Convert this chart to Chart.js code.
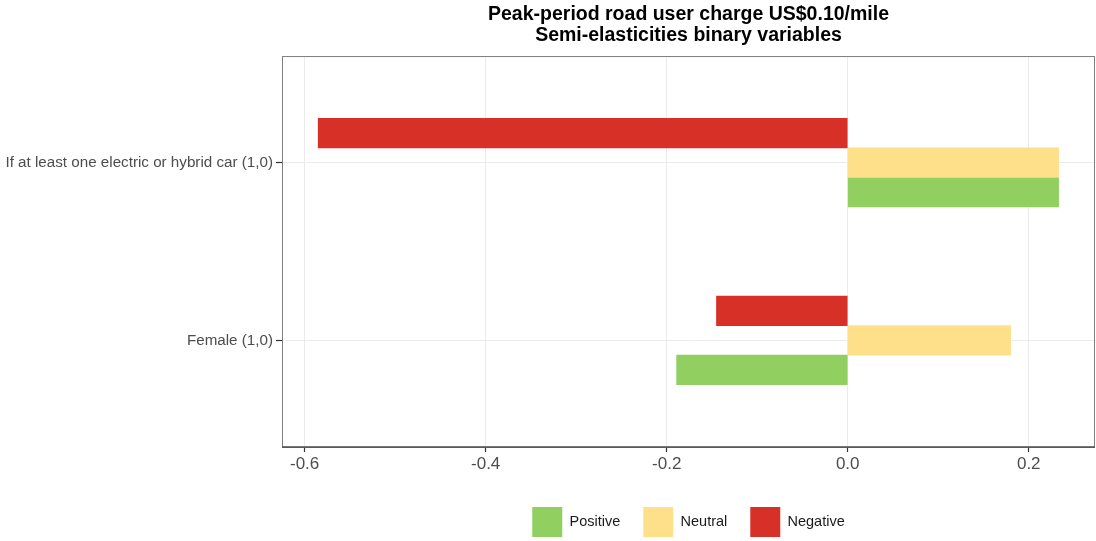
<!DOCTYPE html>
<html>
<head>
<meta charset="utf-8">
<script src="https://cdn.jsdelivr.net/npm/chart.js@4/dist/chart.umd.min.js"></script>
<style>
  html, body { margin: 0; padding: 0; background: #ffffff; }
  #wrap { width: 1096px; height: 541px; position: relative; }
</style>
</head>
<body>
<div id="wrap"><canvas id="c" width="1096" height="541"></canvas></div>
<script>
const titleLines = ['Peak-period road user charge US$0.10/mile', 'Semi-elasticities binary variables'];
const categories = ['If at least one electric or hybrid car (1,0)', 'Female (1,0)'];
const seriesNames = ['Negative', 'Neutral', 'Positive'];
const negativeValues = [-0.585, -0.145];
const neutralValues = [0.233, 0.180];
const positiveValues = [0.233, -0.189];
const xTickValues = [-0.6, -0.4, -0.2, 0, 0.2];
const xTickLabels = ['-0.6', '-0.4', '-0.2', '0.0', '0.2'];
const seriesColors = ['#D73027', '#FEE08B', '#91CF60'];

const FONT = '"Liberation Sans", Arial, Helvetica, sans-serif';

function toPoints(vals) {
  return vals.map((v, i) => ({ x: v, y: i + 1 }));
}
const seriesValues = [negativeValues, neutralValues, positiveValues];

const panelBorder = {
  id: 'panelBorder',
  afterDraw(chart) {
    const { ctx, chartArea: a } = chart;
    ctx.save();
    ctx.strokeStyle = '#7f7f7f';
    ctx.lineWidth = 1;
    ctx.strokeRect(a.left + 0.5, a.top + 0.5, a.right - a.left - 1, a.bottom - a.top);
    ctx.strokeStyle = '#4d4d4d';
    ctx.lineWidth = 1.6;
    ctx.beginPath();
    ctx.moveTo(a.left, a.bottom);
    ctx.lineTo(a.right, a.bottom);
    ctx.stroke();
    ctx.restore();
  }
};

new Chart(document.getElementById('c'), {
  type: 'bar',
  data: {
    datasets: seriesNames.map((name, i) => ({
      label: name,
      data: toPoints(seriesValues[i]),
      backgroundColor: seriesColors[i],
      borderWidth: 0,
      barThickness: 29.5
    }))
  },
  options: {
    indexAxis: 'y',
    responsive: false,
    animation: false,
    devicePixelRatio: 1,
    layout: { padding: { left: 0, right: 1, top: 0, bottom: -6 } },
    scales: {
      x: {
        type: 'linear',
        min: -0.625,
        max: 0.2732,
        afterBuildTicks(scale) { scale.ticks = xTickValues.map(v => ({ value: v })); },
        afterFit(scale) { scale.height = 37; },
        ticks: {
          callback(value) { const k = xTickValues.indexOf(value); return k >= 0 ? xTickLabels[k] : ''; },
          color: '#4d4d4d',
          font: { family: FONT, size: 17 },
          padding: 2,
          maxRotation: 0
        },
        grid: { color: '#ebebeb', lineWidth: 1, tickLength: 5, tickColor: '#333333', tickWidth: 1.2 },
        border: { display: false }
      },
      y: {
        type: 'linear',
        min: 0.4,
        max: 2.6,
        reverse: true,
        offset: false,
        afterBuildTicks(scale) { scale.ticks = categories.map((c, i) => ({ value: i + 1 })); },
        afterFit(scale) { scale.width = 282; },
        ticks: {
          callback(value) { return categories[value - 1] || ''; },
          color: '#4d4d4d',
          font: { family: FONT, size: 15.2 },
          padding: 3
        },
        grid: { offset: false, color: '#ebebeb', lineWidth: 1, tickLength: 6, tickColor: '#333333', tickWidth: 1.2 },
        border: { display: false }
      }
    },
    plugins: {
      title: {
        display: true,
        text: titleLines,
        fullSize: false,
        color: '#000000',
        font: { family: FONT, size: 19.5, weight: 'bold', lineHeight: 1.07 },
        padding: { top: 4, bottom: 10.3 }
      },
      legend: {
        position: 'bottom',
        fullSize: false,
        reverse: true,
        labels: {
          boxWidth: 30,
          boxHeight: 30,
          padding: 23,
          color: '#1a1a1a',
          font: { family: FONT, size: 14.5 }
        }
      },
      tooltip: { enabled: false }
    }
  },
  plugins: [panelBorder]
});
</script>
</body>
</html>
